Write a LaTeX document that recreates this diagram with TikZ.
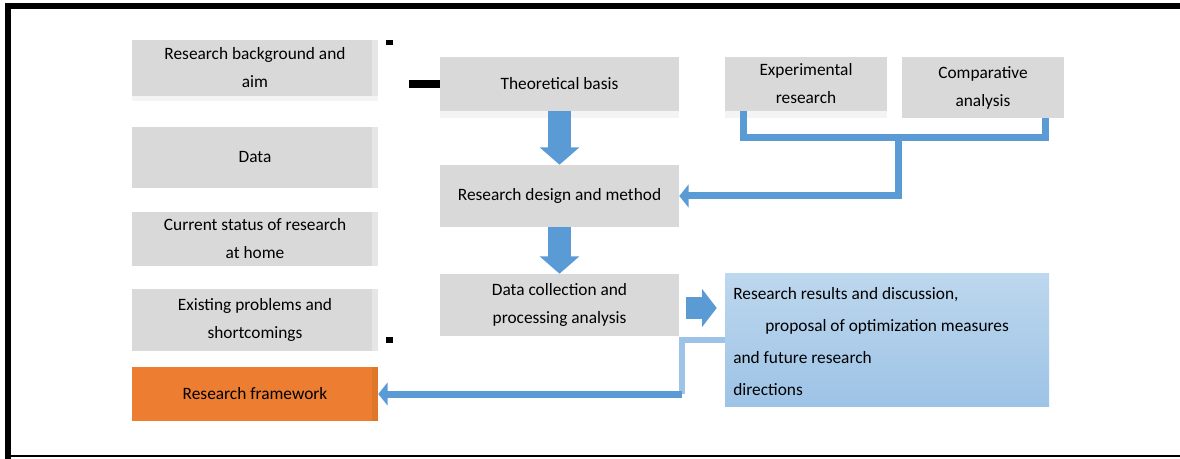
\documentclass[tikz,border=0pt]{standalone}
\usepackage{fontspec}
\setmainfont{Carlito}
\usetikzlibrary{arrows.meta,calc,positioning}
\definecolor{boxgray}{HTML}{D9D9D9}
\definecolor{stripgray}{HTML}{F4F4F4}
\definecolor{edgegray}{HTML}{E6E6E6}
\definecolor{accentorange}{HTML}{ED7D31}
\definecolor{orangeedge}{HTML}{E07628}
\definecolor{flowblue}{HTML}{5B9BD5}
\definecolor{paleblue}{HTML}{9DC3E6}
\definecolor{topblue}{HTML}{BDD7EE}
\tikzset{
  card/.style={fill=boxgray, draw=none, inner sep=0pt, align=center,
    font=\fontsize{13}{21}\selectfont, text=black},
  leftcard/.style={card, minimum width=184.5pt},
  midcard/.style={card, minimum width=179.25pt},
  sidecard/.style={card, minimum width=121.5pt},
  blockarrow/.style={draw=flowblue, line width=17pt,
    -{Triangle[width=29pt,length=13pt]}},
  sidearrow/.style={draw=flowblue, line width=16pt,
    -{Triangle[width=28pt,length=11pt]}},
  feed/.style={draw=flowblue, line width=5.25pt},
  feedtip/.style={feed, -{Triangle[width=17pt,length=7pt]}},
  lightfeed/.style={draw=paleblue, line width=4.5pt},
}
\begin{document}
\begin{tikzpicture}[x=0.75pt,y=-0.75pt]
\useasboundingbox (0,0) rectangle (1180,459);

% frame
\draw[line width=4.5pt] (8,459) -- (8,6.5) -- (1180,6.5);
\draw[line width=2pt] (8,456) -- (1180,456);

% left column
\fill[stripgray] (132,96) rectangle (378,101);
\node[leftcard, minimum height=42pt] (bg) at (255,68) {Research background and\\aim};
\node[leftcard, minimum height=45.75pt] (data) at (255,157.5) {Data};
\node[leftcard, minimum height=40.5pt] (status) at (255,239) {Current status of research\\at home};
\node[leftcard, minimum height=46.5pt] (prob) at (255,320) {Existing problems and\\shortcomings};
\node[leftcard, fill=accentorange, minimum height=40.5pt] (frame) at (255,394) {Research framework};
\foreach \n in {bg,data,status,prob}{
  \fill[edgegray] ($(\n.north east)+(-6,0)$) rectangle (\n.south east);
}
\fill[orangeedge] ($(frame.north east)+(-6,0)$) rectangle (frame.south east);
\fill[black] (386,40) rectangle (393,45);
\fill[black] (386,337) rectangle (393,343);

% middle column
\fill[stripgray] (440,111) rectangle (679,118);
\node[midcard, minimum height=40.5pt] (theory) at (559.5,84) {Theoretical basis};
\node[midcard, minimum height=46.5pt] (design) at (559.5,196) {Research design and method};
\node[midcard, minimum height=46.5pt] (proc) at (559.5,305) {Data collection and\\processing analysis};

% top right
\fill[stripgray] (725,111) rectangle (887,118);
\node[sidecard, minimum height=40.5pt] (exp) at (806,84) {Experimental\\research};
\node[sidecard, minimum height=45.75pt] (comp) at (983,87.5) {Comparative\\analysis};

% results
\node[draw=none, inner sep=0pt, minimum width=243pt, minimum height=99pt,
  top color=topblue, bottom color=paleblue] (res) at (887,340) {};
\node[anchor=north west, inner sep=0pt, align=left,
  font=\fontsize{13}{24}\selectfont] (restext) at (733,287)
  {Research results and discussion,\\
   \hspace*{24pt}proposal of optimization measures\\
   and future research\\
   directions};

% flow arrows
\coordinate (dashstart) at (409,84);
\draw[line width=6pt] (dashstart) -- (dashstart -| theory.west);
\draw[blockarrow] (theory.south) -- (design.north);
\draw[blockarrow] (design.south) -- (proc.north);
\draw[sidearrow] ($(proc.east)+(7,3)$) -- ($(proc.east -| res.west)+(-8,3)$);

% feedback from the two studies
\coordinate (bar) at (898,138);
\draw[feed] ($(exp.south west)+(19,0)$) |- (bar) -| ($(comp.south east)+(-19,0)$);
\draw[feedtip] (bar) |- (design.east);

% feedback to the framework
\coordinate (drop) at (682,0);
\draw[lightfeed] (res.west) -| (drop |- frame.east);
\draw[feedtip] (drop |- frame.east) -- (frame.east);
\end{tikzpicture}
\end{document}
